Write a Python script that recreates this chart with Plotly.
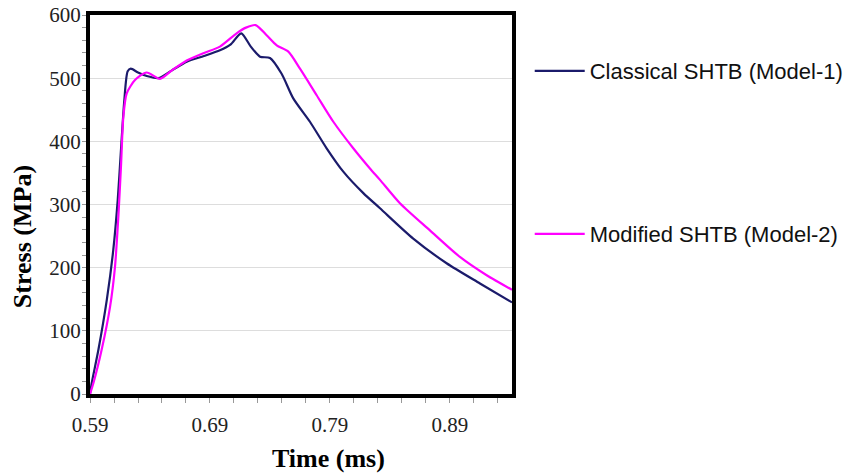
import plotly.graph_objects as go

# Time (ms) and stress (MPa)
t_classical = [0.590, 0.5914, 0.597, 0.604, 0.6094, 0.6131, 0.6158, 0.6186, 0.6214, 0.6240,
               0.630, 0.638, 0.647, 0.658, 0.6706, 0.685, 0.6983, 0.707, 0.7160, 0.7240,
               0.7317, 0.7400, 0.7497, 0.7594, 0.7733, 0.7872, 0.8011, 0.8178, 0.8317,
               0.8594, 0.8872, 0.9150, 0.9417]
s_classical = [0, 17, 70, 149, 228, 307, 386, 465, 511, 515,
               509, 503, 500, 512, 526, 535, 544, 553, 571, 550,
               534, 532, 507, 468, 431, 389, 352, 318, 294,
               246, 207, 175, 145]

t_modified = [0.590, 0.5928, 0.5997, 0.6067, 0.6108, 0.6136, 0.6158, 0.6178, 0.6206, 0.6275,
              0.6372, 0.6483, 0.658, 0.6706, 0.685, 0.6983, 0.7122, 0.7200, 0.7280, 0.7372,
              0.7456, 0.7553, 0.7650, 0.7789, 0.7928, 0.8094, 0.8233, 0.8317, 0.8483,
              0.8733, 0.8983, 0.9206, 0.9417]
s_modified = [0, 17, 70, 138, 201, 280, 360, 439, 476, 497,
              509, 499, 512, 528, 540, 550, 571, 580, 584, 568,
              552, 542, 515, 473, 431, 389, 357, 339, 302,
              259, 217, 188, 165]

x_tickvals = [0.59, 0.69, 0.79, 0.89]
x_ticktext = ["0.59", "0.69", "0.79", "0.89"]
y_tickvals = [0, 100, 200, 300, 400, 500, 600]

fig = go.Figure()
fig.add_trace(go.Scatter(x=t_classical, y=s_classical, mode="lines",
                         name="Classical SHTB (Model-1)",
                         line=dict(color="#1b1b6b", width=2.2, shape="spline", smoothing=0.7),
                         legend="legend"))
fig.add_trace(go.Scatter(x=t_modified, y=s_modified, mode="lines",
                         name="Modified SHTB (Model-2)",
                         line=dict(color="#ff00ff", width=2.2, shape="spline", smoothing=0.7),
                         legend="legend2"))

serif = "Liberation Serif, Times New Roman, serif"
sans = "Liberation Sans, Arial, sans-serif"

legend_common = dict(font=dict(family=sans, size=22, color="#111111"),
                     bgcolor="rgba(0,0,0,0)", xanchor="left", yanchor="middle",
                     itemwidth=50)

fig.update_layout(
    width=852, height=474,
    margin=dict(l=90, r=340, t=15, b=80, autoexpand=False),
    paper_bgcolor="white", plot_bgcolor="white",
    showlegend=True,
    legend=dict(x=1.042, y=0.852, **legend_common),
    legend2=dict(x=1.042, y=0.422, **legend_common),
    xaxis=dict(range=[0.59, 0.9417], tickmode="array", tickvals=x_tickvals, ticktext=x_ticktext,
               showgrid=False, zeroline=False,
               showline=True, linecolor="black", linewidth=4, mirror=True,
               ticks="outside", ticklen=5, tickcolor="#999999", tickwidth=1,
               minor=dict(dtick=0.02, tick0=0.59, ticks="outside", ticklen=5,
                          tickcolor="#999999", tickwidth=1, showgrid=False),
               tickfont=dict(family=serif, size=21, color="#222222"),
               ticklabelstandoff=4),
    yaxis=dict(range=[0, 600], tickmode="array", tickvals=y_tickvals,
               showgrid=True, gridcolor="#dddddd", gridwidth=1, zeroline=False,
               showline=True, linecolor="black", linewidth=4, mirror=True,
               ticks="outside", ticklen=4, tickcolor="#999999", tickwidth=1,
               minor=dict(dtick=20, tick0=0, ticks="outside", ticklen=4,
                          tickcolor="#999999", tickwidth=1, showgrid=False),
               tickfont=dict(family=serif, size=21, color="#222222"),
               ticklabelstandoff=-3),
    annotations=[
        dict(text="<b>Stress (MPa)</b>", xref="paper", yref="paper", x=-0.161, y=0.414,
             textangle=-90, showarrow=False, xanchor="center", yanchor="middle",
             font=dict(family=serif, size=26, color="black")),
        dict(text="<b>Time (ms)</b>", xref="paper", yref="paper", x=0.566, y=-0.169,
             showarrow=False, xanchor="center", yanchor="middle",
             font=dict(family=serif, size=26, color="black")),
    ],
)

fig.write_html("out.html")
